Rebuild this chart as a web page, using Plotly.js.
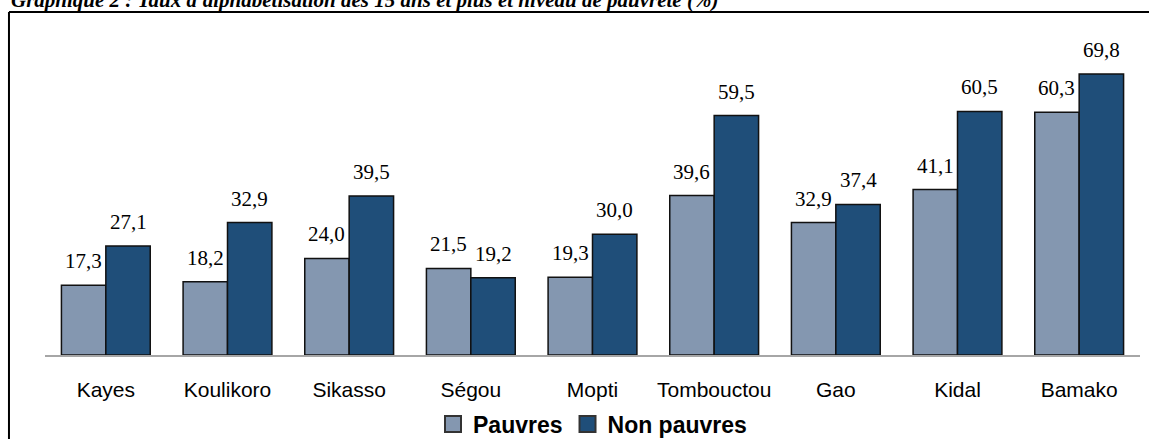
<!DOCTYPE html>
<html>
<head>
<meta charset="utf-8">
<script src="https://cdn.plot.ly/plotly-3.0.1.min.js"></script>
<style>html,body{margin:0;padding:0;background:#fff;}#chart{width:1149px;height:439px;}</style>
</head>
<body>
<div id="chart"></div>
<script>
var regions = ["Kayes", "Koulikoro", "Sikasso", "Ségou", "Mopti", "Tombouctou", "Gao", "Kidal", "Bamako"];
var pauvres = [17.3, 18.2, 24.0, 21.5, 19.3, 39.6, 32.9, 41.1, 60.3];
var nonPauvres = [27.1, 32.9, 39.5, 19.2, 30.0, 59.5, 37.4, 60.5, 69.8];
var seriesNames = ["Pauvres", "Non pauvres"];
var titleText = "Graphique 2 : Taux d'alphabétisation des 15 ans et plus et niveau de pauvreté (%)";

var colP = "#8497B0", colN = "#1F4E79";
function fmt(v){ return v.toFixed(1).replace('.', ','); }

var traces = [
  {type:'bar', name:seriesNames[0], x:regions, y:pauvres, marker:{color:colP, line:{color:'#111', width:1.5}}, showlegend:false, hoverinfo:'none'},
  {type:'bar', name:seriesNames[1], x:regions, y:nonPauvres, marker:{color:colN, line:{color:'#111', width:1.5}}, showlegend:false, hoverinfo:'none'},
  {type:'scatter', mode:'markers', name:seriesNames[0], x:[null], y:[null], marker:{symbol:'square', size:16, color:colP, line:{color:'#333', width:2}}},
  {type:'scatter', mode:'markers', name:seriesNames[1], x:[null], y:[null], marker:{symbol:'square', size:16, color:colN, line:{color:'#333', width:2}}}
];

var serif = 'Liberation Serif, Times New Roman, serif';
var sans = 'Liberation Sans, Arial, sans-serif';
var annotations = [];
var lblFont = {family:serif, size:21, color:'#000'};
regions.forEach(function(r, i){
  annotations.push({x:r, y:pauvres[i], xref:'x', yref:'y', text:fmt(pauvres[i]), showarrow:false, xshift:-22.3, yanchor:'bottom', yshift:10, font:lblFont});
  annotations.push({x:r, y:nonPauvres[i], xref:'x', yref:'y', text:fmt(nonPauvres[i]), showarrow:false, xshift:22.3, yanchor:'bottom', yshift:10, font:lblFont});
});
annotations.push({x:-0.0329, y:1, xref:'paper', yref:'paper', xanchor:'left', yanchor:'middle', yshift:33, showarrow:false, text:'<b><i>'+titleText+'</i></b>', font:{family:serif, size:21, color:'#000'}});

var layout = {
  width:1149, height:439,
  margin:{l:45, r:9, t:33, b:84, autoexpand:false},
  paper_bgcolor:'#fff', plot_bgcolor:'#fff',
  barmode:'group', bargap:0.27, bargroupgap:0,
  xaxis:{type:'category', showline:true, linecolor:'#A6A6A6', linewidth:1.5, ticks:'', showgrid:false, zeroline:false, automargin:false,
         tickfont:{family:sans, size:21, color:'#000'}, ticklabelstandoff:15, fixedrange:true},
  yaxis:{range:[0,80], visible:false, showgrid:false, zeroline:false, fixedrange:true},
  showlegend:true,
  legend:{orientation:'h', x:0.5, xanchor:'center', yref:'container', y:0.034, yanchor:'middle', font:{family:sans, size:23, color:'#000', weight:'bold'}, itemwidth:30, tracegroupgap:0, bgcolor:'rgba(0,0,0,0)'},
  annotations:annotations,
  shapes:[
    {type:'line', xref:'paper', yref:'paper', x0:-0.0329, x1:1.01, y0:1.0652, y1:1.0652, line:{color:'#000', width:2}},
    {type:'line', xref:'paper', yref:'paper', x0:-0.0329, x1:-0.0329, y0:1.0652, y1:-0.3, line:{color:'#000', width:2}}
  ]
};
Plotly.newPlot('chart', traces, layout, {displayModeBar:false, staticPlot:true});
</script>
</body>
</html>
